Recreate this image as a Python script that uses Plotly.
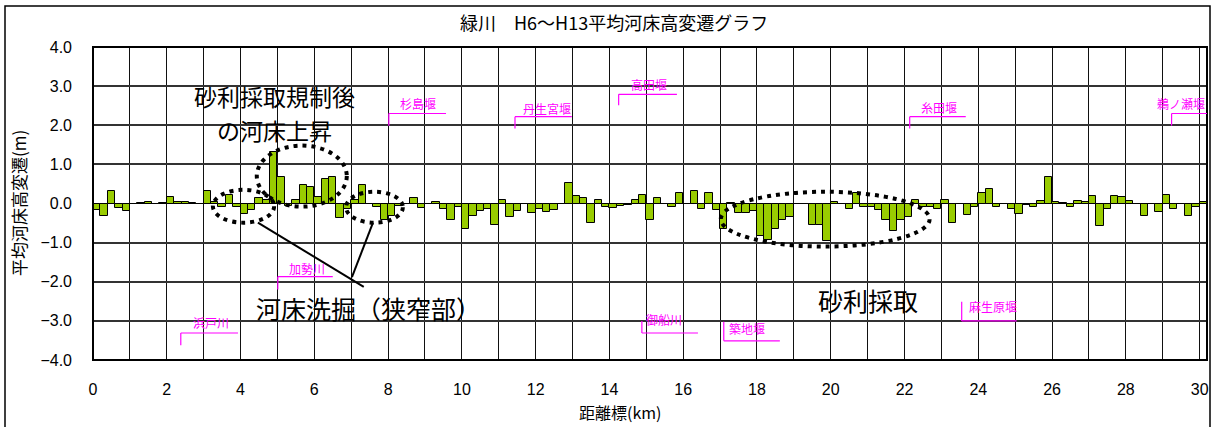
import plotly.graph_objects as go

# ---- data ----
km_start = 0.0
km_step = 0.2
change_m = [
    -0.17, -0.31, 0.31, -0.11, -0.18,   # 0
    0.00, 0.01, 0.03, -0.01, 0.01,      # 1
    0.17, 0.05, 0.03, 0.01, 0.00,       # 2
    0.32, 0.05, -0.10, 0.22, -0.09,     # 3
    -0.28, -0.17, 0.14, 0.09, 1.32,     # 4
    0.68, -0.07, 0.08, 0.47, 0.43,      # 5
    0.17, 0.63, 0.68, -0.38, -0.13,     # 6
    0.08, 0.47, -0.01, -0.09, -0.41,    # 7
    -0.32, -0.07, 0.00, 0.14, -0.11,    # 8
    -0.02, 0.05, -0.14, -0.42, -0.08,   # 9
    -0.64, -0.31, -0.18, -0.15, -0.56,  # 10
    0.09, -0.34, -0.18, 0.00, -0.24,    # 11
    -0.14, -0.21, -0.17, -0.01, 0.52,   # 12
    0.19, 0.14, -0.51, 0.09, -0.09,     # 13
    -0.12, -0.06, -0.03, 0.09, 0.21,    # 14
    -0.43, 0.15, 0.00, -0.10, 0.26,     # 15
    0.00, 0.31, -0.15, 0.26, -0.17,     # 16
    -0.65, 0.02, -0.24, -0.24, -0.20,   # 17
    -0.84, -0.94, -0.65, -0.41, -0.34,  # 18
    -0.01, 0.00, -0.55, -0.55, -0.97,   # 19
    0.05, 0.00, -0.14, 0.26, -0.08,     # 20
    -0.09, -0.17, -0.43, -0.71, -0.43,  # 21
    -0.35, 0.09, -0.08, -0.08, -0.14,   # 22
    0.09, -0.50, 0.00, -0.30, -0.09,    # 23
    0.28, 0.38, -0.08, 0.00, -0.15,     # 24
    -0.26, -0.04, -0.08, 0.06, 0.68,    # 25
    0.04, 0.02, -0.10, 0.06, 0.04,      # 26
    0.19, -0.57, -0.14, 0.18, 0.16,     # 27
    0.06, -0.01, -0.32, 0.00, -0.22,    # 28
    0.22, -0.14, 0.00, -0.31, -0.08,    # 29
    0.03,                               # 30
]
km = [round(km_start + i * km_step, 1) for i in range(len(change_m))]

x_tick_vals = list(range(0, 31, 2))
x_tick_text = [str(v) for v in x_tick_vals]
y_tick_vals = [4, 3, 2, 1, 0, -1, -2, -3, -4]

title_text = "緑川　H6～H13平均河床高変遷グラフ"
x_title = "距離標(km)"
y_title = "平均河床高変遷(m)"

# weir / tributary labels
landmark_names = ["杉島堰", "丹生宮堰", "高田堰", "糸田堰", "鵜ノ瀬堰",
                  "浜戸川", "加勢川", "御船川", "築地堰", "麻生原堰"]

# ---- layout helpers (positions in data coordinates) ----
# (label_x, label_y, bracket_x0, bracket_x1, bracket_y_h, bracket_y_v_end)
landmark_layout = [
    (8.81, 2.56, 8.02, 9.57, 2.30, 1.99),
    (12.30, 2.43, 11.44, 12.98, 2.22, 1.92),
    (15.07, 3.04, 14.25, 15.83, 2.79, 2.51),
    (22.93, 2.46, 22.14, 23.66, 2.22, 1.92),
    (29.49, 2.56, 29.24, 30.2, 2.30, 1.99),
    (3.20, -3.03, 2.38, 3.93, -3.31, -3.62),
    (5.80, -1.67, 5.01, 6.50, -1.87, -2.20),
    (15.47, -2.97, 14.88, 16.40, -3.31, -3.00),
    (17.72, -3.20, 17.10, 18.62, -3.51, -3.02),
    (24.39, -2.64, 23.55, 25.04, -3.00, -2.51),
]

PINK = "#ff00ff"
CJK = "Noto Sans CJK JP"

fig = go.Figure()
fig.add_trace(go.Bar(
    x=km, y=change_m, width=km_step, offset=0,
    marker=dict(color="#99cc00", line=dict(color="#000000", width=1)),
    showlegend=False, hoverinfo="x+y",
))

shapes = []
annotations = []

px_l, px_r, px_t, px_b = 93, 1207, 47, 360
def pxx(p):
    return (p - px_l) / (px_r - px_l)
def pxy(p):
    return (px_b - p) / (px_b - px_t)

# outer chart frame
shapes.append(dict(type="rect", xref="paper", yref="paper",
                   x0=pxx(5), x1=pxx(1210), y0=pxy(432), y1=pxy(6),
                   line=dict(color="#000", width=1.5), layer="below"))
# plot frame
shapes.append(dict(type="rect", xref="paper", yref="paper",
                   x0=0, x1=1, y0=0, y1=1,
                   line=dict(color="#000", width=2)))

for name, (lx, ly, bx0, bx1, bh, bv) in zip(landmark_names, landmark_layout):
    annotations.append(dict(x=lx, y=ly, xref="x", yref="y", text=name,
                            xanchor="center", yanchor="middle",
                            showarrow=False, font=dict(family=CJK, size=12, color=PINK)))
    shapes.append(dict(type="line", xref="x", yref="y", x0=bx0, x1=bx1, y0=bh, y1=bh,
                       line=dict(color=PINK, width=1.2)))
    shapes.append(dict(type="line", xref="x", yref="y", x0=bx0, x1=bx0, y0=bh, y1=bv,
                       line=dict(color=PINK, width=1.2)))

# dotted ellipses
for (x0, x1, y0, y1) in [(3.25, 4.91, -0.49, 0.35),
                         (4.44, 6.88, -0.08, 1.48),
                         (6.86, 8.40, -0.49, 0.30),
                         (17.02, 22.68, -1.10, 0.30)]:
    shapes.append(dict(type="circle", xref="x", yref="y", x0=x0, x1=x1, y0=y0, y1=y1,
                       line=dict(color="#000", width=4, dash="4px,5px")))

# callout lines
shapes.append(dict(type="line", xref="x", yref="y", x0=4.47, y0=-0.49, x1=7.34, y1=-2.13,
                   line=dict(color="#000", width=2)))
shapes.append(dict(type="line", xref="x", yref="y", x0=7.59, y0=-0.49, x1=7.02, y1=-1.88,
                   line=dict(color="#000", width=2)))

big = dict(family=CJK, size=25, color="#000")
annotations += [
    dict(x=4.93, y=(203.85 - 97) / 39.04, xref="x", yref="y", text="砂利採取規制後",
         showarrow=False, xanchor="center", yanchor="middle",
         font=dict(family=CJK, size=23, color="#000")),
    dict(x=4.91, y=(203.85 - 131) / 39.04, xref="x", yref="y", text="の河床上昇",
         showarrow=False, xanchor="center", yanchor="middle",
         font=dict(family=CJK, size=23, color="#000")),
    dict(x=7.48, y=-2.67, xref="x", yref="y", text="河床洗掘（狭窄部）", showarrow=False,
         xanchor="center", yanchor="middle", font=big),
    dict(x=21.0, y=-2.46, xref="x", yref="y", text="砂利採取", showarrow=False,
         xanchor="center", yanchor="middle", font=big),
    dict(x=pxx(614), y=pxy(22), xref="paper", yref="paper", text=title_text, showarrow=False,
         xanchor="center", yanchor="middle", font=dict(family=CJK, size=18, color="#000")),
    dict(x=pxx(620), y=pxy(412), xref="paper", yref="paper", text=x_title, showarrow=False,
         xanchor="center", yanchor="middle", font=dict(family=CJK, size=16, color="#000")),
    dict(x=pxx(18), y=pxy(203), xref="paper", yref="paper", text=y_title, showarrow=False,
         xanchor="center", yanchor="middle",
         textangle=-90, font=dict(family=CJK, size=17, color="#000")),
]

fig.update_layout(
    width=1224, height=427,
    margin=dict(l=px_l, r=1224 - px_r, t=px_t, b=427 - px_b, autoexpand=False),
    paper_bgcolor="#ffffff", plot_bgcolor="#ffffff",
    bargap=0,
    shapes=shapes, annotations=annotations,
    font=dict(family="Liberation Sans, Arial", size=16, color="#000"),
)
fig.update_xaxes(
    range=[0, 30.2], tickvals=x_tick_vals, ticktext=x_tick_text,
    showgrid=True, gridcolor="#111", gridwidth=1,
    minor=dict(dtick=1, tick0=0, showgrid=True, gridcolor="#111", gridwidth=1),
    zeroline=False, showline=False, ticks="", ticklabelstandoff=18,
    tickfont=dict(family="Liberation Sans, Arial", size=16),
)
fig.update_yaxes(
    range=[-4, 4], tickvals=y_tick_vals, tickformat=".1f",
    showgrid=True, gridcolor="#333", gridwidth=1.5,
    zeroline=True, zerolinecolor="#000", zerolinewidth=1,
    showline=False, ticks="", ticklabelstandoff=20,
    tickfont=dict(family="Liberation Sans, Arial", size=16),
)

fig.write_html("out.html", config={"displayModeBar": False},
               post_script="document.body.style.margin='0px';")
